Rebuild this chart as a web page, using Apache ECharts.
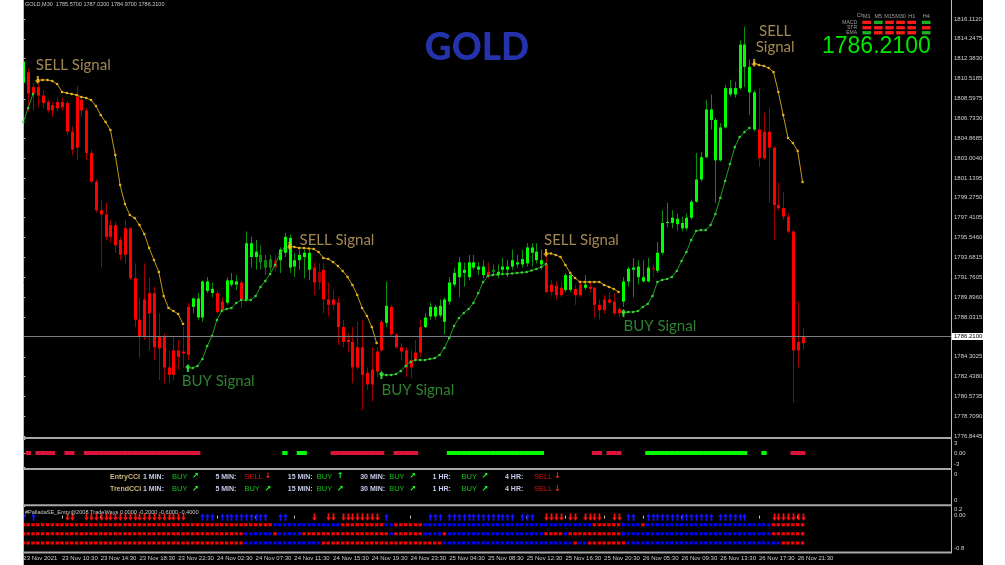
<!DOCTYPE html>
<html>
<head>
<meta charset="utf-8">
<title>GOLD M30</title>
<script src="https://cdn.jsdelivr.net/npm/echarts@6.0.0/dist/echarts.min.js"></script>
<style>
  html, body { margin: 0; padding: 0; background: #ffffff; }
  #main { width: 1005px; height: 565px; }
</style>
</head>
<body>
<div id="main"></div>
<script>
// ---- values ----
var symbolName = 'GOLD,M30';
var headerOHLC = [1785.57, 1787.02, 1784.97, 1786.21];
var lastPrice = 1786.21;

var priceTicks = [1816.1120, 1814.2475, 1812.3830, 1810.5185, 1808.5975, 1806.7330, 1804.8685,
  1803.0040, 1801.1395, 1799.2750, 1797.4105, 1795.5460, 1793.6815, 1791.7605, 1789.8960,
  1788.0315, 1784.3025, 1782.4380, 1780.5735, 1778.7090, 1776.8445];

var timeLabels = ['23 Nov 2021', '23 Nov 10:30', '23 Nov 14:30', '23 Nov 18:30', '23 Nov 22:30',
  '24 Nov 02:30', '24 Nov 07:30', '24 Nov 11:30', '24 Nov 15:30', '24 Nov 19:30', '24 Nov 23:30',
  '25 Nov 04:30', '25 Nov 08:30', '25 Nov 12:30', '25 Nov 16:30', '25 Nov 20:30', '26 Nov 05:30',
  '26 Nov 09:30', '26 Nov 13:30', '26 Nov 17:30', '26 Nov 21:30'];

// M30 candles, one entry per bar
var opens = [
  1810.1, 1811.1, 1809.7, 1809.7, 1808.9, 1808.3, 1808.0, 1808.3, 1808.3, 1808.2,
  1805.5, 1808.8, 1808.5, 1807.5, 1803.5, 1800.8, 1798.1, 1797.7, 1796.7, 1796.7,
  1795.3, 1796.4, 1796.4, 1791.7, 1787.8, 1789.7, 1790.3, 1790.3, 1786.2, 1786.2,
  1783.3, 1784.9, 1784.9, 1784.8, 1789.0, 1789.0, 1788.0, 1788.0, 1790.5, 1790.3,
  1790.3, 1789.5, 1789.4, 1791.1, 1791.1, 1791.3, 1789.7, 1793.7, 1793.7, 1793.2,
  1792.7, 1792.7, 1793.4, 1793.4, 1794.1, 1792.7, 1792.8, 1793.4, 1793.7, 1792.5,
  1792.7, 1792.3, 1792.5, 1789.7, 1789.7, 1789.4, 1787.1, 1785.9, 1785.7, 1785.2,
  1785.2, 1782.8, 1783.1, 1784.8, 1787.6, 1787.5, 1789.0, 1786.4, 1785.2, 1784.9,
  1784.0, 1784.7, 1787.1, 1787.1, 1788.1, 1788.1, 1788.2, 1787.6, 1789.5, 1791.1,
  1791.8, 1792.2, 1791.8, 1792.7, 1792.5, 1792.0, 1792.3, 1792.3, 1792.0, 1792.5,
  1792.5, 1792.8, 1793.0, 1793.0, 1793.1, 1794.1, 1793.4, 1793.0, 1793.0, 1791.1,
  1791.0, 1790.8, 1790.6, 1790.6, 1790.7, 1791.1, 1790.8, 1790.9, 1790.8, 1789.2,
  1789.7, 1789.7, 1789.5, 1788.8, 1789.5, 1791.4, 1792.5, 1791.8, 1791.4, 1791.4,
  1792.7, 1792.4, 1794.1, 1796.9, 1796.9, 1796.8, 1796.4, 1796.4, 1797.4, 1798.9,
  1801.0, 1803.1, 1806.6, 1802.8, 1802.8, 1805.9, 1809.0, 1809.0, 1809.6, 1811.6,
  1809.2, 1805.7, 1805.7, 1805.5, 1805.5, 1804.0, 1798.6, 1798.3, 1797.5, 1796.1,
  1785.7, 1785.57];
var closes = [
  1812.1, 1809.1, 1809.1, 1808.9, 1808.2, 1807.5, 1807.5, 1807.7, 1807.8, 1805.5,
  1803.8, 1804.0, 1807.5, 1803.5, 1800.8, 1798.1, 1797.7, 1795.6, 1795.6, 1794.8,
  1793.9, 1793.9, 1791.7, 1787.8, 1786.2, 1786.2, 1788.4, 1785.2, 1785.1, 1783.3,
  1782.6, 1782.6, 1784.3, 1784.6, 1784.5, 1789.8, 1789.8, 1791.4, 1791.4, 1790.7,
  1788.5, 1788.7, 1791.5, 1791.5, 1791.4, 1789.7, 1795.0, 1795.0, 1794.2, 1793.9,
  1793.4, 1793.5, 1792.7, 1794.4, 1795.6, 1795.5, 1793.4, 1793.9, 1794.1, 1794.1,
  1791.3, 1791.3, 1789.7, 1789.2, 1789.2, 1787.1, 1785.7, 1785.7, 1783.3, 1783.3,
  1782.6, 1781.7, 1781.7, 1782.9, 1784.9, 1789.1, 1786.4, 1785.2, 1784.8, 1783.3,
  1783.3, 1784.0, 1784.7, 1788.0, 1789.0, 1789.0, 1789.1, 1789.7, 1791.3, 1792.2,
  1793.2, 1792.5, 1793.2, 1793.2, 1792.8, 1792.8, 1792.0, 1792.5, 1792.3, 1792.8,
  1792.8, 1793.4, 1793.2, 1793.5, 1794.6, 1794.6, 1794.2, 1793.4, 1790.4, 1790.4,
  1790.1, 1790.1, 1792.0, 1792.0, 1790.1, 1790.1, 1791.1, 1790.7, 1789.2, 1788.7,
  1788.7, 1789.4, 1788.4, 1788.4, 1791.4, 1792.6, 1792.7, 1792.8, 1791.8, 1792.7,
  1792.5, 1794.1, 1796.9, 1797.0, 1797.4, 1797.3, 1796.9, 1797.4, 1798.9, 1801.0,
  1803.1, 1807.6, 1807.6, 1806.6, 1805.9, 1809.6, 1809.6, 1809.6, 1813.7, 1813.7,
  1811.6, 1809.2, 1803.0, 1803.0, 1804.0, 1798.6, 1798.3, 1797.5, 1796.1, 1784.9,
  1784.9, 1786.21];
var highs = [
  1812.4, 1811.5, 1810.1, 1810.0, 1809.4, 1808.5, 1808.3, 1808.7, 1808.7, 1808.4,
  1806.0, 1809.8, 1808.8, 1807.7, 1803.8, 1801.0, 1799.1, 1798.8, 1797.2, 1797.0,
  1795.6, 1797.2, 1796.5, 1793.1, 1789.9, 1793.1, 1791.8, 1790.9, 1788.4, 1786.5,
  1784.9, 1786.2, 1785.9, 1787.1, 1789.4, 1789.9, 1790.3, 1791.5, 1791.8, 1791.3,
  1790.6, 1789.9, 1791.8, 1792.2, 1792.0, 1791.5, 1796.1, 1795.6, 1795.3, 1794.8,
  1793.9, 1793.9, 1793.9, 1794.6, 1796.0, 1795.8, 1794.1, 1794.4, 1794.4, 1794.4,
  1793.2, 1793.1, 1793.1, 1791.3, 1790.6, 1789.9, 1787.8, 1786.5, 1787.1, 1787.6,
  1787.8, 1783.3, 1785.2, 1785.2, 1787.8, 1791.4, 1789.2, 1786.5, 1785.6, 1785.2,
  1784.9, 1785.9, 1787.8, 1788.4, 1789.4, 1789.2, 1789.7, 1789.9, 1791.8, 1792.7,
  1793.7, 1793.2, 1793.9, 1793.9, 1793.2, 1793.4, 1793.2, 1793.0, 1793.0, 1793.6,
  1793.4, 1794.4, 1793.9, 1794.4, 1795.0, 1795.0, 1795.0, 1794.4, 1794.1, 1791.5,
  1791.4, 1791.3, 1792.2, 1792.3, 1791.1, 1791.5, 1792.0, 1791.4, 1790.9, 1789.7,
  1790.1, 1790.4, 1790.3, 1789.0, 1791.8, 1792.8, 1793.6, 1793.4, 1793.4, 1793.6,
  1793.0, 1795.1, 1798.1, 1798.8, 1798.1, 1797.8, 1797.5, 1797.8, 1799.1, 1803.5,
  1803.6, 1808.5, 1809.0, 1806.8, 1806.3, 1809.9, 1810.4, 1810.2, 1814.1, 1815.4,
  1812.3, 1809.4, 1809.6, 1807.3, 1807.8, 1804.1, 1800.7, 1799.8, 1797.8, 1796.2,
  1789.5, 1787.02];
var lows = [
  1809.6, 1807.4, 1807.5, 1807.8, 1807.7, 1807.3, 1806.9, 1807.4, 1807.5, 1805.2,
  1803.3, 1802.8, 1806.9, 1802.8, 1800.7, 1797.9, 1792.7, 1795.3, 1795.1, 1794.1,
  1793.4, 1793.1, 1791.5, 1787.1, 1784.2, 1785.9, 1784.9, 1784.0, 1782.1, 1781.8,
  1781.8, 1782.1, 1783.1, 1783.3, 1784.0, 1788.4, 1787.8, 1787.6, 1790.3, 1789.9,
  1788.4, 1788.5, 1789.2, 1790.9, 1790.6, 1788.9, 1789.5, 1792.7, 1792.5, 1792.5,
  1792.0, 1792.3, 1792.3, 1792.2, 1793.7, 1792.2, 1791.8, 1792.5, 1791.7, 1791.5,
  1790.1, 1790.6, 1788.4, 1788.1, 1788.7, 1785.4, 1785.2, 1784.7, 1781.8, 1783.1,
  1779.3, 1781.2, 1780.1, 1782.4, 1784.8, 1787.1, 1786.2, 1785.1, 1784.0, 1782.4,
  1782.3, 1783.8, 1784.3, 1787.0, 1787.8, 1787.8, 1788.0, 1786.4, 1789.2, 1790.9,
  1789.9, 1790.9, 1791.5, 1792.5, 1792.0, 1791.7, 1791.7, 1791.9, 1791.7, 1792.0,
  1791.8, 1792.5, 1792.7, 1792.7, 1792.8, 1792.8, 1793.1, 1792.5, 1790.3, 1790.1,
  1789.7, 1789.9, 1790.4, 1790.4, 1789.2, 1789.9, 1790.6, 1790.4, 1788.0, 1787.8,
  1788.4, 1789.2, 1788.2, 1788.0, 1789.0, 1790.9, 1789.9, 1791.1, 1791.3, 1791.3,
  1791.8, 1792.2, 1793.9, 1796.5, 1796.4, 1796.2, 1796.1, 1796.2, 1797.2, 1798.8,
  1800.8, 1803.0, 1805.7, 1798.8, 1802.7, 1805.8, 1808.8, 1808.7, 1809.4, 1809.7,
  1807.1, 1805.5, 1802.2, 1802.8, 1798.8, 1795.3, 1798.1, 1797.2, 1795.9, 1780.0,
  1783.3, 1784.97];
// candle paint: G/R bright green/red, g/r dim
var candleTone = [
  'GRRRRRRRRR', 'RRRRRRRRRR', 'RRRRRRRRRR', 'RRRRRGGGGG', 'RRGGGRGGGg',
  'ggrGGGGGGG', 'RrRRRRRRRR', 'RRRRRGRRRR', 'RRRGGGGGGG', 'GGGGGGRgGG',
  'GGGGGGGGRR', 'RRGGRRGRRR', 'RRRRGGGGGG', 'rGGGGGGGGG', 'GGGGGGGGGG',
  'GGRRRRRRRR', 'RR'].join('');

// trailing stop lines: first bar of each segment + values
var sellStart = [3, 55, 108, 151];
var sellStops = [
  [1810.37, 1810.37, 1810.37, 1810.27, 1809.99, 1809.24, 1809.14, 1809.05, 1808.95, 1808.77,
   1808.67, 1808.48, 1807.92, 1807.07, 1806.41, 1805.66, 1803.31, 1800.48, 1798.69, 1797.66,
   1797.37, 1796.71, 1795.87, 1794.55, 1793.42, 1792.29, 1790.03, 1788.90, 1788.62, 1788.33,
   1787.39],
  [1794.74, 1794.64, 1794.55, 1794.55, 1794.50, 1794.45, 1794.17, 1793.61, 1793.51, 1793.23,
   1792.85, 1792.38, 1791.82, 1791.06, 1790.12, 1788.90, 1788.15, 1787.11, 1785.60],
  [1794.07, 1794.03, 1793.89, 1793.70, 1792.95, 1792.19, 1791.72, 1791.35, 1791.35, 1791.35,
   1791.35, 1791.35, 1791.06, 1790.88, 1790.69, 1790.41],
  [1811.97, 1811.78, 1811.69, 1811.50, 1811.12, 1809.24, 1807.07, 1804.91, 1804.44, 1803.68,
   1800.76]
];
var buyStart = [0, 34, 74, 124];
var buyStops = [
  [1806.41, 1807.73, 1809.05],
  [1783.25, 1783.25, 1783.44, 1784.10, 1785.32, 1786.26, 1787.77, 1788.62, 1788.80, 1788.90,
   1789.37, 1789.65, 1789.65, 1789.65, 1790.03, 1790.88, 1791.44, 1792.10, 1792.95, 1793.98,
   1794.55],
  [1782.59, 1782.59, 1782.59, 1782.68, 1782.97, 1783.44, 1783.81, 1784.00, 1784.00, 1784.00,
   1784.10, 1784.19, 1784.47, 1785.13, 1786.07, 1787.20, 1787.96, 1788.43, 1788.80, 1789.37,
   1790.31, 1791.35, 1791.91, 1792.01, 1792.05, 1792.10, 1792.10, 1792.15, 1792.19, 1792.24,
   1792.29, 1792.43, 1792.57, 1792.76, 1793.04],
  [1788.43, 1788.52, 1788.52, 1788.62, 1788.99, 1789.28, 1790.03, 1791.35, 1791.54, 1791.63,
   1791.82, 1792.38, 1793.32, 1794.17, 1795.30, 1796.15, 1796.24, 1796.24, 1796.71, 1797.75,
   1799.26, 1800.86, 1802.46, 1804.05, 1804.99, 1805.46, 1805.85]
];
var sellSignalBars = [3, 55, 108, 151];
var sellSignalText = ['SELL Signal', 'SELL Signal', 'SELL Signal', 'SELL\nSignal'];
var buySignalBars = [34, 74, 124];
var buySignalText = ['BUY Signal', 'BUY Signal', 'BUY Signal'];

// trend histogram sub-window: G up, R down, . empty
var trendBars = [
  '.R.RRRR..R', 'R..RRRRRRR', 'RRRRRRRRRR', 'RRRRRRR...', '..........',
  '....G..GG.', '....RRRRRR', 'RRRRR..RRR', 'RR......GG', 'GGGGGGGGGG',
  'GGGGGGGG..', '........RR', '.RRR.....G', 'GGGGGGGGGG', 'GGGGGGGGGG',
  '...G.....R', 'RR'].join('');
var trendAxisValues = [3, 0, -3];
var trendAxisText = ['3', '0.00', '-3'];

// CCI text sub-window
var cciNames = ['EntryCCI', 'TrendCCI'];
var cciFrames = ['1 MIN:', '5 MIN:', '15 MIN:', '30 MIN:', '1 HR:', '4 HR:'];
var cciSignals = [
  ['BUY', 'SELL', 'BUY', 'BUY', 'BUY', 'SELL'],
  ['BUY', 'BUY', 'BUY', 'BUY', 'BUY', 'SELL']
];
var cciArrows = [
  ['\u2197', '\u2193', '\u2191', '\u2197', '\u2197', '\u2193'],
  ['\u2197', '\u2197', '\u2197', '\u2197', '\u2197', '\u2193']
];
var cciAxisText = ['0', '0'];

// PalladaSE sub-window: arrows (U up / D down) and three dot rows (R / B)
var palladaLevels = [0, -0.2, -0.6, -0.4];
var palladaArrows = [
  'U.U......D', 'D..DDDDDDD', 'DDDDDDDDDD', 'DDDD...UUU', '.UUUUUUUUU',
  'U..UU.....', 'D..DD.DDDD', 'DDDD.U....', '....UUU.UU', 'UUUUUUUUUU',
  'UU.UUU..DD', 'DD.DD.DDDD', '..DD.UU..U', 'UUUUUUUUUU', 'UUU.UUUUUU',
  '.....DDDDD', 'DD'].join('');
var palladaRow1 = [
  'RRRRRRRRRR', 'RRRRRRRRRR', 'RRRRRRRRRR', 'RRRRRRRRRR', 'RRRRRRRRRR',
  'RRBBBBBBBB', 'BBBBBBRRRR', 'RRRRRBBRRR', 'RRRBBBBBBB', 'BBBBBBBBBB',
  'BBBBBBBBBB', 'BBBBBBBBRR', 'RRRRBBBBRB', 'BBBBBBBBBB', 'BBBBBBBBBB',
  'BBBBBRRRRR', 'RR'].join('');
var palladaRow2 = [
  'RRRRRRRRRR', 'RRRRRRRRRR', 'RRRRRRRRRR', 'RRRRRRRRRR', 'RRRRRRBBBB',
  'BBRBBBBBRR', 'RRRRRRRRRR', 'RRRRRRBRRR', 'RRRBBBBRBB', 'BBBBBBBBBB',
  'BBBBBBBBRR', 'RRBRRRRRRR', 'RRRRBBBBBB', 'BBBBBBBBBB', 'BBBBBBBBBB',
  'BBBBBRRRRR', 'RR'].join('');
var palladaRow3 = [
  'RRRRRRRRRR', 'RRRRRRRRRR', 'RRRRRRRRRR', 'RRRRRRRRRR', 'RRRRRRBBBB',
  'BBBBBBBBBB', 'BBRRRRRRRR', 'RRRRRRRRRR', 'RRRRRRRBBB', 'BBBBBBBBBB',
  'BBBBBBBBBB', 'BBBBRBBRRR', 'RRRRRBBBBB', 'BBBBBBBBBB', 'BBBBBBBBBB',
  'BBBBBBBRRR', 'RR'].join('');
var palladaAxisValues = [0.2, 0, -0.8];
var palladaAxisText = ['0.2', '0.00', '-0.8'];

// multi timeframe panel top right
var mtfFrames = ['M1', 'M5', 'M15', 'M30', 'H1', 'H4'];
var mtfIndicators = ['MACD', 'STR', 'EMA'];
var mtfStates = [
  ['dn', 'up', 'dn', 'dn', 'dn', 'up'],
  ['dn', 'dn', 'dn', 'dn', 'dn', 'dn'],
  ['up', 'dn', 'dn', 'dn', 'dn', 'up']
];

// ---- layout ----
var PLOT_LEFT = 23.3, PLOT_RIGHT = 951;
var X_MAX = 191.67;            // bars that fit in the window incl. the right shift
var PRICE_MIN = 1776.75, PRICE_MAX = 1817.90;
var SMALL_FONT = '"Liberation Sans", Arial, sans-serif';
var AXIS_TEXT = '#d0d0d0';
var BAR_COUNT = opens.length;

var TONES = {
  G: {body: '#00ff00', wick: '#0b8f0b'},
  g: {body: '#0c8a0c', wick: '#0a7a0a'},
  R: {body: '#ff0000', wick: '#a00000'},
  r: {body: '#9a0000', wick: '#8a0000'}
};

function stopSeries(starts, segs) {
  var out = [];
  for (var i = 0; i < BAR_COUNT; i++) out.push([i, null]);
  segs.forEach(function (seg, k) {
    seg.forEach(function (v, j) { out[starts[k] + j] = [starts[k] + j, v]; });
  });
  return out;
}
var sellLine = stopSeries(sellStart, sellStops);
var buyLine = stopSeries(buyStart, buyStops);

function drawCandle(params, api) {
  var i = params.dataIndex;
  var pal = TONES[candleTone.charAt(i)];
  var o = api.coord([i, api.value(1)]);
  var c = api.coord([i, api.value(2)]);
  var lo = api.coord([i, api.value(3)]);
  var hi = api.coord([i, api.value(4)]);
  var x = Math.round(o[0]);
  var top = Math.min(o[1], c[1]);
  var h = Math.max(1, Math.abs(o[1] - c[1]));
  return {
    type: 'group',
    children: [
      {type: 'line', shape: {x1: x + 0.5, y1: hi[1], x2: x + 0.5, y2: lo[1]}, style: {stroke: pal.wick, lineWidth: 1}},
      {type: 'rect', shape: {x: x - 1, y: top, width: 3, height: h}, style: {fill: pal.body}}
    ]
  };
}

function drawTrend(params, api) {
  var i = params.dataIndex;
  var ch = trendBars.charAt(i);
  if (ch === '.') return null;
  var p = api.coord([i, 0]);
  var w = api.size([1, 0])[0];
  return {type: 'rect', shape: {x: p[0] - w / 2, y: p[1] - 2, width: w + 0.4, height: 4},
    style: {fill: ch === 'G' ? '#00ff00' : '#dc143c'}};
}

function arrowPts(cx, cy, up, hw, hh) {
  var s = up ? 1 : -1;
  return [[cx, cy - s * hh], [cx + hw, cy - s * hh * 0.1], [cx + hw * 0.38, cy - s * hh * 0.1],
    [cx + hw * 0.38, cy + s * hh], [cx - hw * 0.38, cy + s * hh], [cx - hw * 0.38, cy - s * hh * 0.1],
    [cx - hw, cy - s * hh * 0.1]];
}

var palladaRows = [palladaRow1, palladaRow2, palladaRow3];
var palladaRowLevels = [palladaLevels[1], palladaLevels[3], palladaLevels[2]];
function drawPallada(params, api) {
  var i = params.dataIndex;
  var kids = [];
  var a = palladaArrows.charAt(i);
  if (a !== '.') {
    var p = api.coord([i, palladaLevels[0]]);
    kids.push({type: 'polygon', shape: {points: arrowPts(Math.round(p[0]) + 0.5, p[1] + 1.5, a === 'U', 2.3, 3.6)},
      style: {fill: a === 'U' ? '#1212ff' : '#ff1010'}});
  }
  palladaRows.forEach(function (row, r) {
    var q = api.coord([i, palladaRowLevels[r]]);
    kids.push({type: 'rect', shape: {x: q[0] - 1.7, y: q[1] - 1.5, width: 3.4, height: 3},
      style: {fill: row.charAt(i) === 'R' ? '#ff0000' : '#0000ff'}});
  });
  return {type: 'group', children: kids};
}

var timeTickBars = timeLabels.map(function (t, k) { return k * 8; });

function hiddenX(gi) {
  return {type: 'value', gridIndex: gi, min: 0, max: X_MAX, show: false};
}

function edgeAxis(gi, values, labels, topPad, bottomPad, min, max) {
  var richBase = {fontSize: 6, color: AXIS_TEXT, fontFamily: SMALL_FONT};
  return {
    type: 'value', gridIndex: gi, position: 'right', min: min, max: max,
    axisLine: {show: false}, splitLine: {show: false},
    axisTick: {show: true, customValues: values, length: 2, lineStyle: {color: '#c0c0c0'}},
    axisLabel: {
      customValues: values, margin: 3, fontSize: 6, color: AXIS_TEXT, fontFamily: SMALL_FONT,
      formatter: function (v) {
        var k = values.indexOf(v);
        if (k === 0) return '{t|' + labels[k] + '}';
        if (k === values.length - 1) return '{b|' + labels[k] + '}';
        return labels[k];
      },
      rich: {
        t: Object.assign({padding: [topPad, 0, 0, 0]}, richBase),
        b: Object.assign({padding: [0, 0, bottomPad, 0]}, richBase)
      }
    }
  };
}

// ---- graphic overlay: frame, titles, text panels ----
var g = [];
g.push({type: 'rect', z: -100, silent: true, shape: {x: 23, y: 0, width: 960, height: 565}, style: {fill: '#000000'}});
function line(x1, y1, x2, y2, w, c) {
  g.push({type: 'line', z: 20, silent: true, shape: {x1: x1, y1: y1, x2: x2, y2: y2}, style: {stroke: c, lineWidth: w}});
}
function text(x, y, s, fill, font, align) {
  g.push({type: 'text', z: 20, silent: true, x: x, y: y,
    style: {text: s, fill: fill, font: font, align: align || 'left', verticalAlign: 'middle'}});
}
line(23.5, 0, 23.5, 565, 1, '#bdbdbd');
line(951.5, 0, 951.5, 553, 1, '#bdbdbd');
[438, 469, 505.2, 552.5].forEach(function (y) { line(23, y, 952, y, 2, '#a8a8a8'); });

text(25, 4.5, symbolName + '  ' + headerOHLC.map(function (v) { return v.toFixed(4); }).join(' '),
  '#c8c8c8', '5.5px ' + SMALL_FONT);
text(477, 48, 'GOLD', '#2432ac', '900 37px Lato, sans-serif', 'center');
text(822, 47, lastPrice.toFixed(4), '#00e600', '23px ' + SMALL_FONT);

// MTF table
var MTF_COL_X = [866.7, 878.3, 889.5, 900.5, 911.7, 926.2];
var MTF_ROW_Y = [22.3, 27.7, 32.7];
text(860, 16, 'Clr', '#a0a0a0', '5px ' + SMALL_FONT, 'center');
mtfFrames.forEach(function (f, k) { text(MTF_COL_X[k], 16, f, '#a0a0a0', '5.5px ' + SMALL_FONT, 'center'); });
mtfIndicators.forEach(function (name, r) {
  text(857, MTF_ROW_Y[r], name, '#a0a0a0', '5px ' + SMALL_FONT, 'right');
  mtfStates[r].forEach(function (st, k) {
    g.push({type: 'rect', z: 20, silent: true,
      shape: {x: MTF_COL_X[k] - 4.3, y: MTF_ROW_Y[r] - 1.6, width: 8.6, height: 3.3},
      style: {fill: st === 'up' ? '#1fae1f' : '#ff1a1a'}});
  });
});

// CCI panel
var CCI_ROW_Y = [476.7, 489.3];
var CCI_STEP = 72.4;
cciNames.forEach(function (name, r) {
  var y = CCI_ROW_Y[r];
  text(110, y, name, '#cdb77c', 'bold 7px ' + SMALL_FONT);
  cciFrames.forEach(function (f, k) {
    var dx = CCI_STEP * k;
    var sig = cciSignals[r][k];
    text(143 + dx, y, f, '#c3c9e6', 'bold 7px ' + SMALL_FONT);
    text(172 + dx, y, sig, sig === 'BUY' ? '#12c012' : '#dd0f0f', '7.5px ' + SMALL_FONT);
    text(192 + dx, y - 0.5, cciArrows[r][k], sig === 'BUY' ? '#22ff22' : '#ff2020', 'bold 8px "DejaVu Sans", sans-serif');
  });
});
text(954, 474.3, cciAxisText[0], AXIS_TEXT, '6px ' + SMALL_FONT);
text(954, 500.7, cciAxisText[1], AXIS_TEXT, '6px ' + SMALL_FONT);

text(25, 512, '#PalladaSE_Entry@2008 TradeWays ' + palladaLevels.map(function (v) { return v.toFixed(4); }).join(' '),
  '#c8c8c8', '5.6px ' + SMALL_FONT);

// ---- chart ----
var chart = echarts.init(document.getElementById('main'), null, {renderer: 'canvas'});

var sellLabelOffset = [[-2, -15], [10, -6], [-2, -13], [21, -24]];
var sellLabelAlign = ['left', 'left', 'left', 'center'];
var buyLabelOffset = [[-6, 13], [0, 15], [0, 13]];

function stopAt(starts, segs, bar) {
  for (var k = 0; k < starts.length; k++) {
    var j = bar - starts[k];
    if (j >= 0 && j < segs[k].length) return segs[k][j];
  }
  return null;
}

var option = {
  animation: false,
  backgroundColor: '#ffffff',
  graphic: {elements: g},
  grid: [
    {left: PLOT_LEFT, right: 1005 - PLOT_RIGHT, top: 0, height: 437, containLabel: false, outerBoundsMode: 'none'},
    {left: PLOT_LEFT, right: 1005 - PLOT_RIGHT, top: 439, height: 28, containLabel: false, outerBoundsMode: 'none'},
    {left: PLOT_LEFT, right: 1005 - PLOT_RIGHT, top: 506.5, height: 45.5, containLabel: false, outerBoundsMode: 'none'}
  ],
  xAxis: [
    hiddenX(0),
    hiddenX(1),
    {
      type: 'value', gridIndex: 2, min: 0, max: X_MAX,
      axisLine: {show: false}, splitLine: {show: false},
      axisTick: {show: true, customValues: timeTickBars, length: 3, lineStyle: {color: '#c0c0c0'}},
      axisLabel: {
        customValues: timeTickBars, align: 'left', margin: 3, fontSize: 6, color: AXIS_TEXT, fontFamily: SMALL_FONT,
        formatter: function (v) { return timeLabels[timeTickBars.indexOf(v)]; }
      }
    }
  ],
  yAxis: [
    {
      type: 'value', gridIndex: 0, position: 'right', min: PRICE_MIN, max: PRICE_MAX,
      axisLine: {show: false}, splitLine: {show: false},
      axisTick: {show: true, customValues: priceTicks, length: 2, lineStyle: {color: '#c0c0c0'}},
      axisLabel: {
        customValues: priceTicks, margin: 3, fontSize: 6, color: AXIS_TEXT, fontFamily: SMALL_FONT,
        formatter: function (v) { return v.toFixed(4); }
      }
    },
    edgeAxis(1, trendAxisValues, trendAxisText, 8, 6, -3, 3),
    edgeAxis(2, palladaAxisValues, palladaAxisText, 5, 8, -0.8, 0.2)
  ],
  series: [
    {
      type: 'custom', name: 'candles', xAxisIndex: 0, yAxisIndex: 0, clip: true, silent: true, z: 3,
      renderItem: drawCandle, encode: {x: 0, y: [1, 2, 3, 4]},
      data: opens.map(function (o, i) { return [i, o, closes[i], lows[i], highs[i]]; })
    },
    {
      type: 'line', name: 'sell stop', xAxisIndex: 0, yAxisIndex: 0, data: sellLine,
      symbol: 'circle', symbolSize: 2.6, showSymbol: true, showAllSymbol: true, connectNulls: false,
      lineStyle: {color: '#c49a14', width: 1}, itemStyle: {color: '#e3b41e'}, silent: true, z: 4,
      markLine: {
        silent: true, symbol: ['none', 'none'], animation: false,
        lineStyle: {color: '#7d7d85', width: 1, type: 'solid'},
        label: {
          show: true, position: 'end', distance: 1, color: '#000000', backgroundColor: '#ffffff',
          fontSize: 6, fontFamily: SMALL_FONT, padding: [1, 2, 0, 2],
          formatter: function (p) { return p.value.toFixed(4); }
        },
        data: [{yAxis: lastPrice}]
      }
    },
    {
      type: 'line', name: 'buy stop', xAxisIndex: 0, yAxisIndex: 0, data: buyLine,
      symbol: 'circle', symbolSize: 2.6, showSymbol: true, showAllSymbol: true, connectNulls: false,
      lineStyle: {color: '#1f9e1f', width: 1}, itemStyle: {color: '#34d234'}, silent: true, z: 4
    },
    {
      type: 'scatter', name: 'sell signal', xAxisIndex: 0, yAxisIndex: 0, silent: true, z: 6,
      symbol: 'path://M2,0L4,0L4,4.5L6,4.5L3,8L0,4.5L2,4.5Z', symbolSize: [6, 8],
      itemStyle: {color: '#ffc21a'},
      label: {show: true, position: 'inside', verticalAlign: 'middle', color: '#c9a968',
        fontFamily: 'Lato, sans-serif', fontSize: 15, lineHeight: 16},
      data: sellSignalBars.map(function (b, k) {
        return {value: [b, stopAt(sellStart, sellStops, b)],
          label: {formatter: sellSignalText[k], offset: sellLabelOffset[k], align: sellLabelAlign[k]}};
      })
    },
    {
      type: 'scatter', name: 'buy signal', xAxisIndex: 0, yAxisIndex: 0, silent: true, z: 6,
      symbol: 'path://M3,0L6,3.5L4,3.5L4,8L2,8L2,3.5L0,3.5Z', symbolSize: [6, 8],
      itemStyle: {color: '#3cff3c'},
      label: {show: true, position: 'inside', align: 'left', verticalAlign: 'middle', color: '#39a339',
        fontFamily: 'Lato, sans-serif', fontSize: 15},
      data: buySignalBars.map(function (b, k) {
        return {value: [b, stopAt(buyStart, buyStops, b)],
          label: {formatter: buySignalText[k], offset: buyLabelOffset[k]}};
      })
    },
    {
      type: 'custom', name: 'trend', xAxisIndex: 1, yAxisIndex: 1, clip: true, silent: true,
      renderItem: drawTrend, encode: {x: 0, y: 1},
      data: opens.map(function (o, i) { return [i, 0]; })
    },
    {
      type: 'custom', name: 'pallada', xAxisIndex: 2, yAxisIndex: 2, clip: true, silent: true,
      renderItem: drawPallada, encode: {x: 0, y: 1},
      data: opens.map(function (o, i) { return [i, 0]; })
    }
  ]
};
chart.setOption(option);
</script>
</body>
</html>
